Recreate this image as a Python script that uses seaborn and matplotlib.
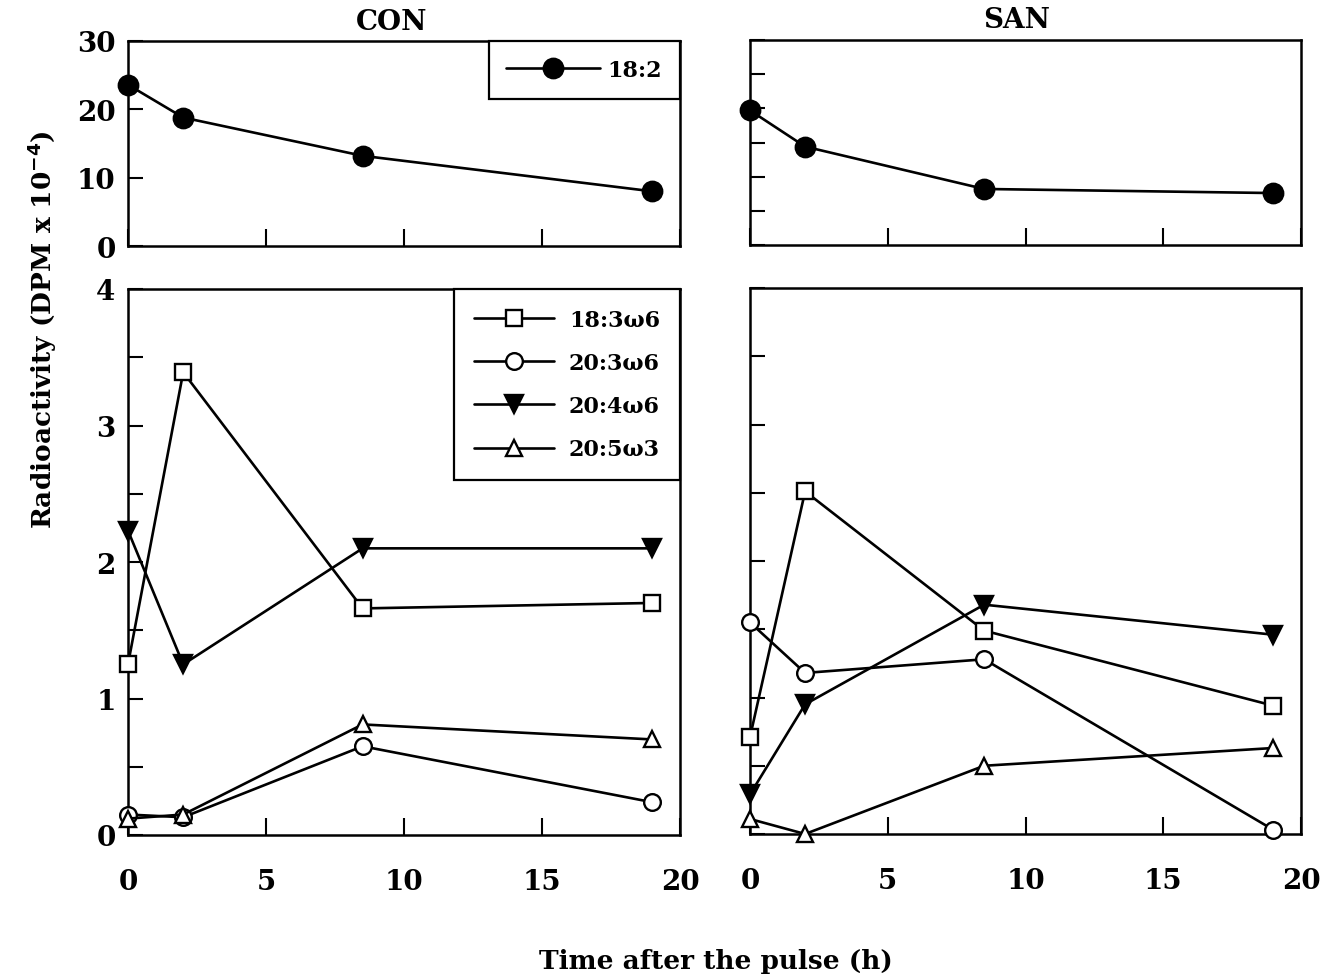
import matplotlib
matplotlib.use("Agg")
import matplotlib.pyplot as plt
import seaborn as sns
import pandas as pd
from matplotlib.ticker import MultipleLocator, FixedLocator

# ---- data ----
time_h = [0, 2, 8.5, 19]
panels = ["CON", "SAN"]

con_18_2 = [23.6, 18.8, 13.2, 8.0]
san_18_2 = [19.7, 14.4, 8.2, 7.6]

con_18_3w6 = [1.25, 3.39, 1.66, 1.70]
con_20_3w6 = [0.15, 0.13, 0.65, 0.24]
con_20_4w6 = [2.23, 1.25, 2.10, 2.10]
con_20_5w3 = [0.12, 0.15, 0.81, 0.70]

san_18_3w6 = [0.71, 2.51, 1.49, 0.94]
san_20_3w6 = [1.55, 1.18, 1.28, 0.03]
san_20_4w6 = [0.29, 0.95, 1.68, 1.46]
san_20_5w3 = [0.11, 0.00, 0.50, 0.63]

top_label = "18:2"
bottom_labels = ["18:3ω6", "20:3ω6", "20:4ω6", "20:5ω3"]

sns.set_theme(style="white")
plt.rcParams["font.family"] = ["DejaVu Serif"]
plt.rcParams["font.weight"] = "bold"
plt.rcParams["text.color"] = "black"
plt.rcParams["axes.labelcolor"] = "black"
plt.rcParams["xtick.color"] = "black"
plt.rcParams["ytick.color"] = "black"

W, H = 1328, 978
fig = plt.figure(figsize=(W / 100, H / 100), dpi=100)
fig.patch.set_facecolor("white")


def ax_rect(x0, x1, y0, y1):
    return [x0 / W, 1 - y1 / H, (x1 - x0) / W, (y1 - y0) / H]


ax_tl = fig.add_axes(ax_rect(128, 680, 42, 247))
ax_tr = fig.add_axes(ax_rect(750, 1301, 41, 246))
ax_bl = fig.add_axes(ax_rect(128, 680, 290, 836))
ax_br = fig.add_axes(ax_rect(750, 1301, 289, 835))

LW = 1.9
styles = [
    dict(marker="s", mfc="white", ms=11.5),
    dict(marker="o", mfc="white", ms=12),
    dict(marker="v", mfc="black", ms=12.5),
    dict(marker="^", mfc="white", ms=12),
]


def draw_line(ax, y, label, **st):
    df = pd.DataFrame({"t": time_h, "v": y})
    sns.lineplot(data=df, x="t", y="v", ax=ax, color="black", lw=LW,
                 mec="black", mew=1.7, clip_on=False, label=label,
                 legend=False, zorder=3, **st)


top_data = {"CON": con_18_2, "SAN": san_18_2}
bot_data = {"CON": [con_18_3w6, con_20_3w6, con_20_4w6, con_20_5w3],
            "SAN": [san_18_3w6, san_20_3w6, san_20_4w6, san_20_5w3]}

for ax, p in [(ax_tl, "CON"), (ax_tr, "SAN")]:
    draw_line(ax, top_data[p], top_label, marker="o", mfc="black", ms=14)
    ax.set_xlim(0, 20)
    ax.set_ylim(0, 30)

for ax, p in [(ax_bl, "CON"), (ax_br, "SAN")]:
    for y, lab, st in zip(bot_data[p], bottom_labels, styles):
        draw_line(ax, y, lab, **st)
    ax.set_xlim(0, 20)
    ax.set_ylim(0, 4)

TICKFS = 20
for ax in [ax_tl, ax_tr, ax_bl, ax_br]:
    ax.set_xlabel("")
    ax.set_ylabel("")
    for s in ax.spines.values():
        s.set_visible(True)
        s.set_color("black")
        s.set_linewidth(1.8)
    ax.tick_params(which="both", direction="in", width=1.5, colors="black",
                   bottom=True, left=True, top=False, right=False)
    ax.tick_params(axis="y", which="both", length=11, pad=9,
                   labelsize=TICKFS)
    ax.tick_params(axis="x", which="both", length=12, pad=24,
                   labelsize=TICKFS)
    ax.xaxis.set_major_locator(FixedLocator([0, 5, 10, 15, 20]))

# top panels
ax_tl.yaxis.set_major_locator(MultipleLocator(10))
ax_tl.tick_params(axis="x", labelbottom=False)
ax_tr.yaxis.set_major_locator(MultipleLocator(5))
ax_tr.tick_params(axis="x", labelbottom=False)
ax_tr.tick_params(axis="y", labelleft=False)

# bottom panels
ax_bl.yaxis.set_major_locator(MultipleLocator(1))
ax_bl.yaxis.set_minor_locator(MultipleLocator(0.5))
ax_br.yaxis.set_major_locator(MultipleLocator(0.5))
ax_br.tick_params(axis="y", labelleft=False)

for ax in [ax_tl, ax_tr, ax_bl, ax_br]:
    for t in ax.get_xticklabels() + ax.get_yticklabels():
        t.set_fontweight("bold")
        t.set_color("black")

# legends
LEGFS = 16
leg1 = ax_tl.legend(loc="upper right", borderaxespad=0, frameon=True,
                    fancybox=False, edgecolor="black", framealpha=1,
                    handlelength=4.2, handletextpad=0.35, borderpad=0.8,
                    prop=dict(family="DejaVu Serif", weight="bold", size=LEGFS))
leg1.get_frame().set_linewidth(1.6)

leg2 = ax_bl.legend(loc="upper right", borderaxespad=0, frameon=True,
                    fancybox=False, edgecolor="black", framealpha=1,
                    handlelength=3.6, handletextpad=0.65, borderpad=0.9,
                    labelspacing=0.95,
                    prop=dict(family="DejaVu Serif", weight="bold", size=LEGFS))
leg2.get_frame().set_linewidth(1.6)
for leg in (leg1, leg2):
    for t in leg.get_texts():
        t.set_color("black")

# titles and labels
fig.text(392 / W, 1 - 23 / H, "CON", ha="center", va="center",
         fontsize=20, fontweight="bold", color="black")
fig.text(1017 / W, 1 - 21 / H, "SAN", ha="center", va="center",
         fontsize=20, fontweight="bold", color="black")
fig.text(716 / W, 1 - 962 / H, "Time after the pulse (h)", ha="center",
         va="center", fontsize=19, fontweight="bold", color="black")
fig.text(42 / W, 1 - 330 / H, r"Radioactivity (DPM x 10$^{\mathbf{-4}}$)",
         ha="center", va="center", rotation=90, fontsize=19,
         fontweight="bold", color="black")

fig.savefig("out.png", dpi=100, facecolor="white")
